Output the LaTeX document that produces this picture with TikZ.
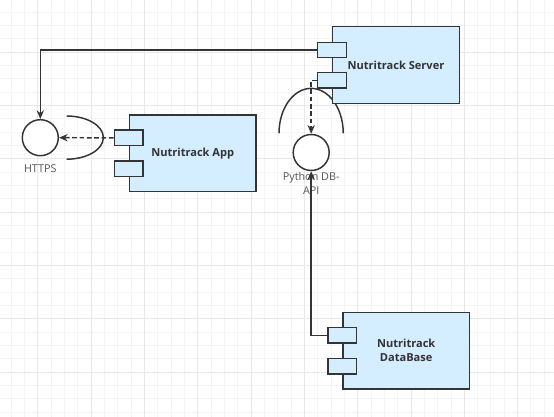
\documentclass[tikz,border=0pt]{standalone}
\usepackage{fontspec}
\setmainfont{Open Sans}
\usepackage{tikz}
\usetikzlibrary{arrows.meta,shapes,positioning}
\usepackage{xcolor}
\definecolor{ntline}{RGB}{50,52,56}
\definecolor{ntfill}{RGB}{212,237,255}
\definecolor{nttext}{RGB}{51,51,51}
\definecolor{ntlabel}{RGB}{85,85,85}
\definecolor{gridminor}{RGB}{244,244,244}
\definecolor{gridmajor}{RGB}{232,232,232}
\tikzstyle{arrow} = [line width=1.1pt,-{Stealth[length=6.5pt,width=5.5pt]},color=ntline]
\tikzstyle{dasharrow} = [arrow, dash pattern=on 3.5pt off 2pt]
\tikzstyle{component} = [rectangle, minimum width=95pt, minimum height=57.5pt, align=center, draw=ntline, fill=ntfill, line width=1.1pt, text=nttext, font=\fontsize{8.3}{10.5}\selectfont\bfseries]
\tikzstyle{port} = [rectangle, minimum width=21.5pt, minimum height=11.6pt, inner sep=0pt, draw=ntline, fill=ntfill, line width=1.1pt]
\tikzstyle{interface} = [circle, minimum size=27pt, inner sep=0pt, draw=ntline, fill=white, line width=1.1pt]
\tikzstyle{ifacelabel} = [align=center, text=ntlabel, inner sep=0pt, font=\fontsize{8.1}{10.5}\selectfont]
\tikzstyle{socket} = [line width=1.1pt, color=ntline]

\begin{document}
\begin{tikzpicture}[x=0.75pt, y=-0.75pt]
    \useasboundingbox (0,0) rectangle (554,417);
    % Grid
    \foreach \x in {11.11,24.44,...,554} \draw[gridminor, line width=0.75pt] (\x,0) -- (\x,417);
    \foreach \y in {12.3,25.63,...,417} \draw[gridminor, line width=0.75pt] (0,\y) -- (554,\y);
    \foreach \x in {37.78,91.11,...,554} \draw[gridmajor, line width=0.75pt] (\x,0) -- (\x,417);
    \foreach \y in {52.3,105.63,...,417} \draw[gridmajor, line width=0.75pt] (0,\y) -- (554,\y);

    % Sockets
    \draw[socket] (66.7,116) arc[start angle=90, end angle=-90, x radius=27.5pt, y radius=16.2pt];
    \draw[socket] (279,133.3) arc[start angle=180, end angle=0, x radius=24.1pt, y radius=33.7pt];

    % Nodes
    \node[component] (server) at (396,65) {Nutritrack Server};
    \node[component] (app) at (192.7,153.3) {Nutritrack App};
    \node[component] (db) at (406.2,350.7) {Nutritrack\\DataBase};
    \node[port] (serverport1) at ([yshift=11.25pt]server.west) {};
    \node[port] (serverport2) at ([yshift=-11.5pt]server.west) {};
    \node[port] (appport1) at ([yshift=11.6pt]app.west) {};
    \node[port] (appport2) at ([yshift=-11.6pt]app.west) {};
    \node[port] (dbport1) at ([yshift=11.4pt]db.west) {};
    \node[port] (dbport2) at ([yshift=-11.6pt]db.west) {};
    \node[interface] (https) at (40.3,137.7) {};
    \node[interface] (dbapi) at (311.2,152.5) {};
    \node[ifacelabel] (httpslabel) at (40.3,169) {HTTPS};
    \node[ifacelabel] (dbapilabel) at (311.2,183.7) {Python DB-\\API};

    % Arrows
    \draw[arrow] (serverport1.west) -| (https.north);
    \draw[dasharrow] (appport1.west) -- (https.east);
    \draw[dasharrow] (serverport2.west) -| (dbapi.north);
    \draw[arrow] (dbport1.west) -| (dbapi.south);
\end{tikzpicture}
\end{document}
